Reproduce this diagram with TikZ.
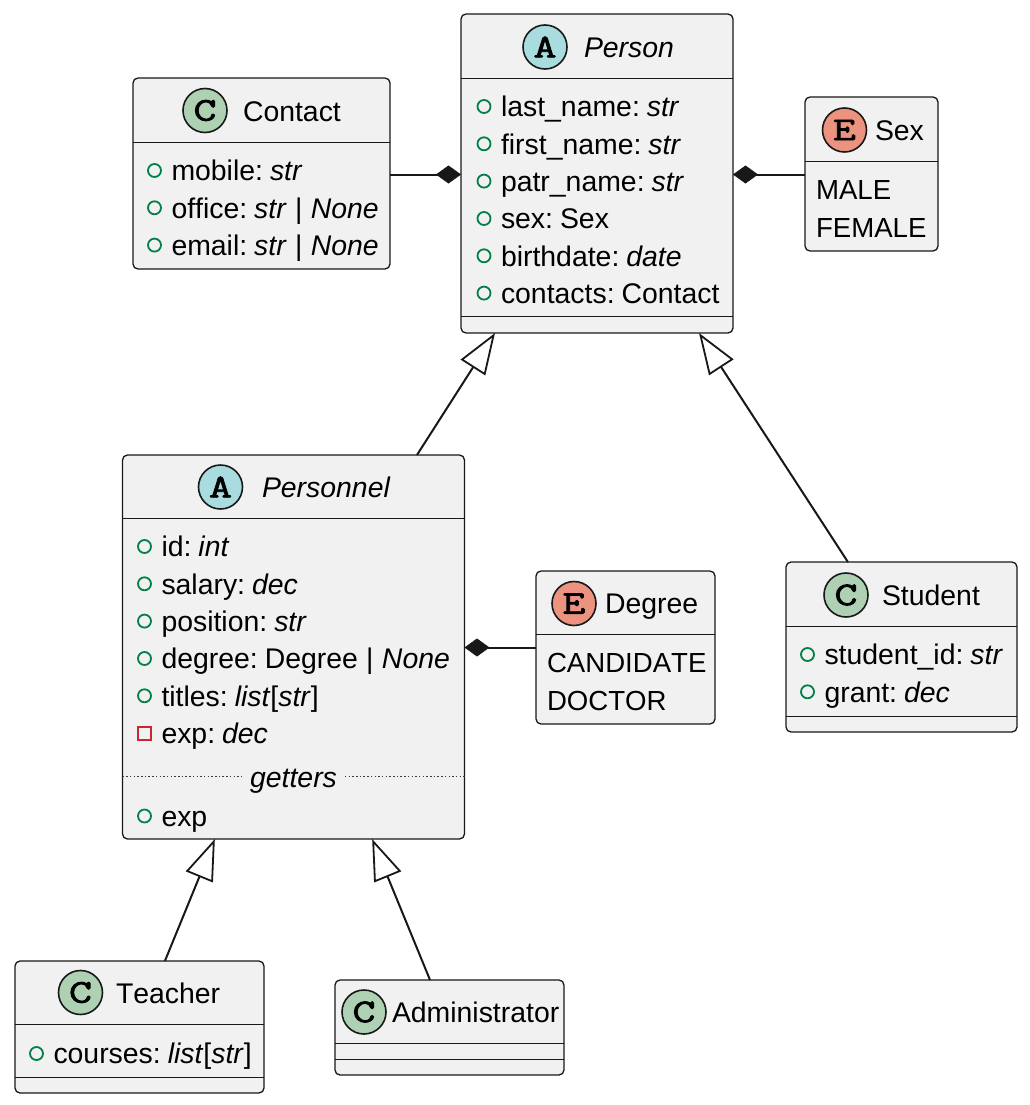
\documentclass[tikz,border=0pt]{standalone}
\usepackage{fontspec}
\setmainfont[WordSpace=0.55,Kerning=Off]{Liberation Sans}
\newfontfamily\spotfont[FakeStretch=1.35,FakeBold=2.5]{Latin Modern Mono}
\usetikzlibrary{arrows.meta,calc}
\definecolor{boxbg}{HTML}{F1F1F1}
\definecolor{ink}{HTML}{181818}
\definecolor{spotA}{HTML}{A9DCDF}
\definecolor{spotC}{HTML}{ADD1B2}
\definecolor{spotE}{HTML}{EB937F}
\definecolor{pubgreen}{HTML}{038048}
\definecolor{privred}{HTML}{C82930}
\tikzset{
  umlbox/.style={draw=ink,fill=boxbg,line width=1.3pt,rounded corners=5pt,inner sep=0pt,outer sep=0pt,anchor=north west},
  sep/.style={draw=ink,line width=1.3pt},
  spot/.style={circle,draw=ink,line width=1.6pt,minimum size=44pt,inner sep=0pt,outer sep=0pt,font=\spotfont\fontsize{33}{33}\selectfont},
  txt/.style={anchor=base west,inner sep=0pt,outer sep=0pt,yshift=-0.8pt,font=\fontsize{28.4}{30}\selectfont,text=black},
  caps/.style={txt,font=\fontsize{27.6}{30}\selectfont},
  pub/.style={circle,draw=pubgreen,line width=1.8pt,minimum size=13pt,inner sep=0pt,outer sep=0pt},
  priv/.style={rectangle,draw=privred,line width=1.8pt,minimum size=13pt,inner sep=0pt,outer sep=0pt},
  conn/.style={draw=ink,line width=2pt},
  compo/.style={conn,-{Diamond[length=25pt,width=18pt,fill=ink,line width=0.6pt]}},
  inherit/.style={conn,-{Triangle[length=41pt,width=29pt,fill=white,line width=1.8pt]}},
  dots/.style={draw=ink!85,line width=1.5pt,dash pattern=on 1.5pt off 2.2pt},
}
\newcommand{\umlrow}[5]{% name, kind, x, baseline, text
  \node[#2] (#1m) at (#3,#4-9.5) {};
  \node[txt] (#1) at (#3+17,#4) {#5};
}
\newcommand{\I}[1]{\textit{#1}}
\newcommand{\alt}{\hspace{4pt} | \hspace{4pt}}
\begin{document}
\begin{tikzpicture}[x=1pt,y=-1pt]
\useasboundingbox (0,0) rectangle (1029,1105);

% boxes
\node[umlbox,minimum width=272pt,minimum height=319pt] (person) at (461,14) {};
\node[umlbox,minimum width=257pt,minimum height=191pt] (contact) at (133,78) {};
\node[umlbox,minimum width=133pt,minimum height=154pt] (sex) at (805,97) {};
\node[umlbox,minimum width=342pt,minimum height=384pt] (personnel) at (122.5,455) {};
\node[umlbox,minimum width=179pt,minimum height=153pt] (degree) at (536,571) {};
\node[umlbox,minimum width=231pt,minimum height=170pt] (student) at (786,562) {};
\node[umlbox,minimum width=249pt,minimum height=132pt] (teacher) at (15,961) {};
\node[umlbox,minimum width=229pt,minimum height=95pt] (admin) at (335,980) {};

% compartment separators
\draw[sep] (person.west |- 0,78.5) -- (person.east |- 0,78.5);
\draw[sep] (person.west |- 0,316.5) -- (person.east |- 0,316.5);
\draw[sep] (contact.west |- 0,142.5) -- (contact.east |- 0,142.5);
\draw[sep] (sex.west |- 0,161.5) -- (sex.east |- 0,161.5);
\draw[sep] (personnel.west |- 0,518.5) -- (personnel.east |- 0,518.5);
\draw[sep] (degree.west |- 0,634.5) -- (degree.east |- 0,634.5);
\draw[sep] (student.west |- 0,626.5) -- (student.east |- 0,626.5);
\draw[sep] (student.west |- 0,716.5) -- (student.east |- 0,716.5);
\draw[sep] (teacher.west |- 0,1024.5) -- (teacher.east |- 0,1024.5);
\draw[sep] (teacher.west |- 0,1077.5) -- (teacher.east |- 0,1077.5);
\draw[sep] (admin.west |- 0,1043.5) -- (admin.east |- 0,1043.5);
\draw[sep] (admin.west |- 0,1059.5) -- (admin.east |- 0,1059.5);

% headers
\node[spot,fill=spotA] (personspot) at (545,47) {A};
\node[txt] (persontitle) at (584,57) {\I{Person}};
\node[spot,fill=spotC] (contactspot) at (205,110.5) {C};
\node[txt] (contacttitle) at (243,121) {Contact};
\node[spot,fill=spotE] (sexspot) at (844.5,130) {E};
\node[txt] (sextitle) at (875,140) {Sex};
\node[spot,fill=spotA] (personnelspot) at (220.5,487) {A};
\node[txt] (personneltitle) at (262,497) {\I{Personnel}};
\node[spot,fill=spotE] (degreespot) at (574,603.5) {E};
\node[txt] (degreetitle) at (605,613) {Degree};
\node[spot,fill=spotC] (studentspot) at (846,595) {C};
\node[txt] (studenttitle) at (882,605) {Student};
\node[spot,fill=spotC] (teacherspot) at (80.5,992.5) {C};
\node[txt] (teachertitle) at (116,1003) {Teacher};
\node[spot,fill=spotC] (adminspot) at (364,1012) {C};
\node[txt] (admintitle) at (392,1022) {Administrator};

% Person attributes
\umlrow{pa}{pub}{484}{116}{last\_name: \I{str}}
\umlrow{pb}{pub}{484}{153.3}{first\_name: \I{str}}
\umlrow{pc}{pub}{484}{190.6}{patr\_name: \I{str}}
\umlrow{pd}{pub}{484}{228}{sex: Sex}
\umlrow{pe}{pub}{484}{265.3}{birthdate: \I{date}}
\umlrow{pf}{pub}{484}{302.6}{contacts: Contact}

% Contact attributes
\umlrow{ca}{pub}{154.5}{180}{mobile: \I{str}}
\umlrow{cb}{pub}{154.5}{217.3}{office: \I{str}\alt\I{None}}
\umlrow{cc}{pub}{154.5}{254.6}{email: \I{str}\alt\I{None}}

% Sex values
\node[caps] (male) at (816,199) {MALE};
\node[caps] (female) at (816,236.3) {FEMALE};

% Personnel attributes
\umlrow{na}{pub}{144.5}{556}{id: \I{int}}
\umlrow{nb}{pub}{144.5}{593.3}{salary: \I{dec}}
\umlrow{nc}{pub}{144.5}{630.6}{position: \I{str}}
\umlrow{nd}{pub}{144.5}{668}{degree: Degree\alt\I{None}}
\umlrow{ne}{pub}{144.5}{705.3}{titles: \I{list}[\I{str}]}
\umlrow{nf}{priv}{144.5}{742.6}{exp: \I{dec}}
\node[txt,anchor=base,inner xsep=8pt] (getters) at (293.5,787) {\I{getters}};
\draw[dots] (personnel.west |- 0,776.5) -- (getters.west |- 0,776.5);
\draw[dots] (getters.east |- 0,776.5) -- (personnel.east |- 0,776.5);
\umlrow{ng}{pub}{144.5}{825.5}{exp}

% Degree values
\node[caps] (candidate) at (547,672) {CANDIDATE};
\node[caps] (doctor) at (547,709.3) {DOCTOR};

% Student attributes
\umlrow{sa}{pub}{807.5}{664}{student\_id: \I{str}}
\umlrow{sb}{pub}{807.5}{701.3}{grant: \I{dec}}

% Teacher attributes
\umlrow{ta}{pub}{36.5}{1063}{courses: \I{list}[\I{str}]}

% connectors
\draw[compo] (contact.east |- 0,174.5) -- (person.west |- 0,174.5);
\draw[compo] (sex.west |- 0,174.5) -- (person.east |- 0,174.5);
\draw[compo] (degree.west |- 0,647.5) -- (personnel.east |- 0,647.5);
\draw[inherit] ($(personnel.north west)!0.861!(personnel.north east)$) -- ($(person.south west)!0.125!(person.south east)$);
\draw[inherit] ($(student.north west)!0.268!(student.north east)$) -- ($(person.south west)!0.875!(person.south east)$);
\draw[inherit] ($(teacher.north west)!0.602!(teacher.north east)$) -- ($(personnel.south west)!0.270!(personnel.south east)$);
\draw[inherit] ($(admin.north west)!0.415!(admin.north east)$) -- ($(personnel.south west)!0.730!(personnel.south east)$);
\end{tikzpicture}
\end{document}
